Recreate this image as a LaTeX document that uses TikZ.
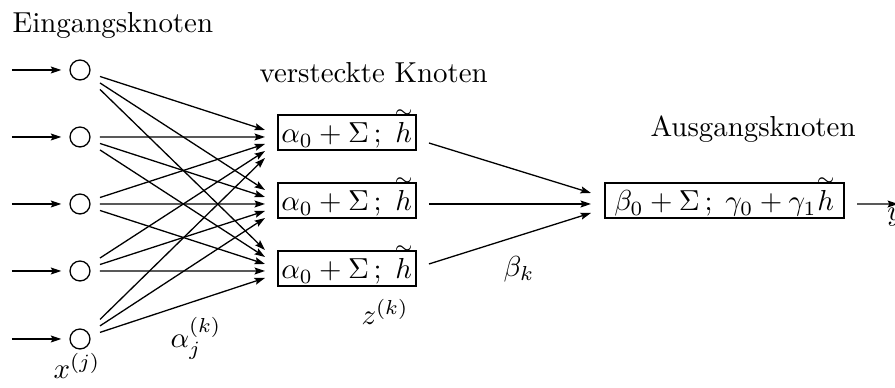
\documentclass[tikz,border=0pt]{standalone}
\usepackage{amsmath}
\usetikzlibrary{arrows.meta,calc}
\newcommand{\htil}{\overset{\sim}{h}}
\begin{document}
\begin{tikzpicture}[x=0.346pt,y=-0.346pt,
  conn/.style={line width=0.45pt,-{Stealth[length=3.6pt,width=2.4pt,inset=0.6pt]}},
  inp/.style={circle,draw,line width=0.45pt,minimum size=6.9pt,inner sep=0pt},
  hid/.style={draw,line width=0.7pt,minimum width=47.7pt,inner xsep=1pt,inner ysep=1pt,text height=8.65pt,text depth=1.45pt},
  outbox/.style={hid,minimum width=82.7pt},
  lbl/.style={inner sep=0pt}]
\useasboundingbox (0,0) rectangle (895,388);
% labels
\node[lbl,anchor=base west] (tin) at (12,33) {Eingangsknoten};
\node[lbl,anchor=base west] (thid) at (259,83) {versteckte Knoten};
\node[lbl,anchor=base west] (tout) at (650,137) {Ausgangsknoten};
% input nodes
\foreach \j/\yy in {1/70,2/137,3/204,4/271,5/339}{
  \node[inp] (c\j) at (80,\yy) {};
  \coordinate (s\j) at (12,\yy);
  \draw[conn,shorten >=2.8pt] (s\j) -- (c\j);
}
% hidden nodes
\node[hid] (h1) at (347,132.5) {$\alpha_0+\Sigma\,;\;\htil$};
\node[hid] (h2) at (347,200.5) {$\alpha_0+\Sigma\,;\;\htil$};
\node[hid] (h3) at (347,268.5) {$\alpha_0+\Sigma\,;\;\htil$};
% output node
\node[outbox] (o) at (724.5,200.5) {$\beta_0+\Sigma\,;\;\gamma_0+\gamma_1\htil$};
% input -> hidden edges
\foreach \k/\Y in {1/137,2/204,3/271}{
  \foreach \j in {1,...,5}{
    \pgfmathsetmacro{\ty}{\Y+(\j-\k-1)*7}
    \coordinate (e\j\k) at (265,\ty);
    \draw[conn] ($(c\j)!0.108!(e\j\k)$) -- (e\j\k);
  }
}
% hidden -> output
\coordinate (a1) at ($(h1.east)+(12,10.5)$);
\coordinate (a2) at ($(h2.east)+(12,3.5)$);
\coordinate (a3) at ($(h3.east)+(12,-4.5)$);
\coordinate (b1) at ($(o.west)+(-13,-7.5)$);
\coordinate (b2) at ($(o.west)+(-13,3.5)$);
\coordinate (b3) at ($(o.west)+(-13,12.5)$);
\draw[conn] (a1) -- (b1);
\draw[conn] (a2) -- (b2);
\draw[conn] (a3) -- (b3);
% output arrow
\coordinate (ys) at ($(o.east)+(12,3.5)$);
\coordinate (ye) at (898,204);
\draw[conn] (ys) -- (ye);
% math labels
\node[lbl] (ly) at (895,217) {$y$};
\node[lbl] (lb) at (519,269) {$\beta_k$};
\node[lbl] (lz) at (385,312) {$z^{(k)}$};
\node[lbl] (la) at (196,338) {$\alpha_j^{(k)}$};
\node[lbl] (lx) at (77,366) {$x^{(j)}$};
\end{tikzpicture}
\end{document}
